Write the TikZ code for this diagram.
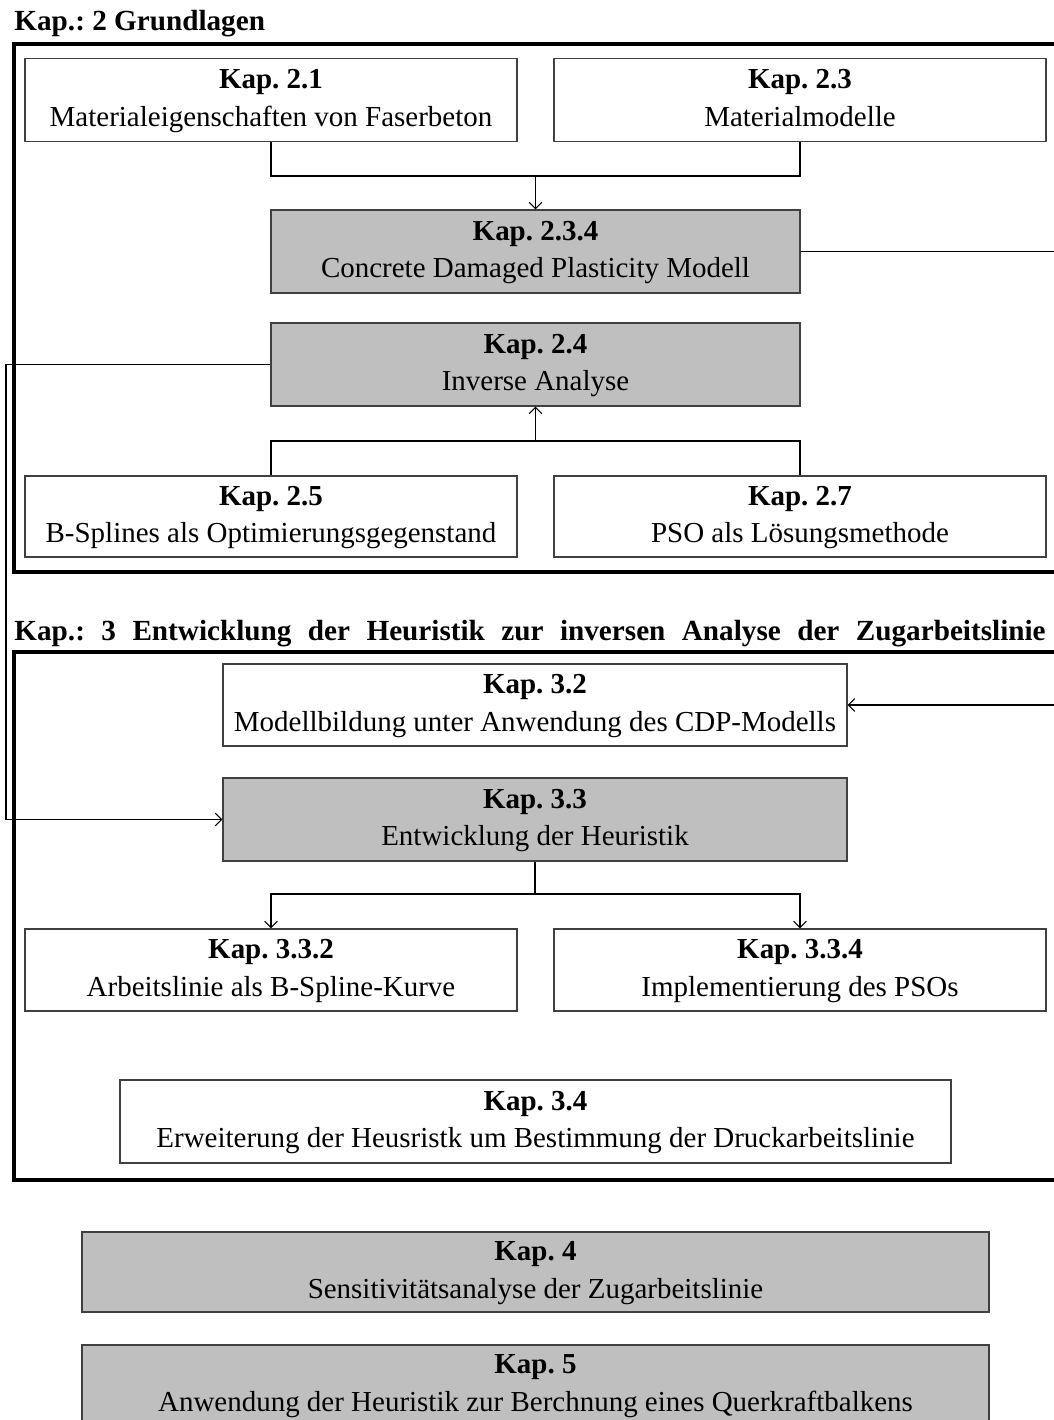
\documentclass[tikz,border=0pt]{standalone}
\usepackage{fontspec}
\setmainfont{Liberation Serif}
\usetikzlibrary{arrows.meta}
\newcommand{\kapitel}[2]{\textbf{Kap. #1}\strut\\#2\strut}
\begin{document}
\frenchspacing
\begin{tikzpicture}[x=0.0165cm,y=-0.0165cm,>={Straight Barb[length=3pt,width=6pt]},
  kap/.style={draw=black!75,line width=0.6pt,align=center,inner sep=0pt,
    font=\fontsize{13.6}{17.5}\selectfont,minimum width=#1*0.0165cm,minimum height=83*0.0165cm},
  kap/.default=492,
  grau/.style={fill=black!25},
  rahmen/.style={line width=1.9pt},
  titel/.style={anchor=base west,inner sep=0pt,font=\fontsize{13.7}{16}\selectfont\bfseries},
  verb/.style={line width=0.5pt}]
  \useasboundingbox (0,0) rectangle (1054,1420);
  \clip (0,0) rectangle (1054,1420);
  \node[titel] (t2) at (14,30) {Kap.: 2 Grundlagen};
  \draw[rahmen] (1070,44) -- (14,44) -- (14,572) -- (1070,572);
  \node[kap] (k21) at (271,100) {\kapitel{2.1}{Materialeigenschaften von Faserbeton}};
  \node[kap] (k23) at (800,100) {\kapitel{2.3}{Materialmodelle}};
  \node[kap=529,grau] (k234) at (535.5,251.5) {\kapitel{2.3.4}{Concrete Damaged Plasticity Modell}};
  \node[kap=529,grau] (k24) at (535.5,364.5) {\kapitel{2.4}{Inverse Analyse}};
  \node[kap,minimum height=81*0.0165cm] (k25) at (271,516.5) {\kapitel{2.5}{B-Splines als Optimierungsgegenstand}};
  \node[kap,minimum height=81*0.0165cm] (k27) at (800,516.5) {\kapitel{2.7}{PSO als Lösungsmethode}};
  \node[titel] (t3) at (14,640) {\makebox[17.01cm][s]{Kap.: 3 Entwicklung der Heuristik zur inversen Analyse der Zugarbeitslinie}};
  \draw[rahmen] (1070,652) -- (14,652) -- (14,1180) -- (1070,1180);
  \node[kap=624,minimum height=82*0.0165cm] (k32) at (535,705) {\kapitel{3.2}{Modellbildung unter Anwendung des CDP-Modells}};
  \node[kap=624,grau] (k33) at (535,819.5) {\kapitel{3.3}{Entwicklung der Heuristik}};
  \node[kap,minimum height=82*0.0165cm] (k332) at (271,970) {\kapitel{3.3.2}{Arbeitslinie als B-Spline-Kurve}};
  \node[kap,minimum height=82*0.0165cm] (k334) at (800,970) {\kapitel{3.3.4}{Implementierung des PSOs}};
  \node[kap=831] (k34) at (535.5,1121.5) {\kapitel{3.4}{Erweiterung der Heusristk um Bestimmung der Druckarbeitslinie}};
  \node[kap=907,grau,minimum height=80*0.0165cm] (k4) at (535.5,1272) {\kapitel{4}{Sensitivitätsanalyse der Zugarbeitslinie}};
  \node[kap=907,grau,minimum height=80*0.0165cm] (k5) at (535.5,1385) {\kapitel{5}{Anwendung der Heuristik zur Berchnung eines Querkraftbalkens}};
  \coordinate (m1) at (535.5,176);
  \coordinate (m2) at (535.5,441);
  \coordinate (m3) at (535,894);
  \coordinate (r1) at (1075,251.5);
  \coordinate (l1) at (6,364.5);
  \draw[verb] (k21.south) |- (m1) -| (k23.south);
  \draw[verb,->] (m1) -- (k234.north);
  \draw[verb] (k25.north) |- (m2) -| (k27.north);
  \draw[verb,->] (m2) -- (k24.south);
  \draw[verb,->] (k234.east) -- (r1) |- (k32.east);
  \draw[verb,->] (k24.west) -- (l1) |- (k33.west);
  \draw[verb] (k33.south) -- (m3);
  \draw[verb,->] (m3) -| (k332.north);
  \draw[verb,->] (m3) -| (k334.north);
\end{tikzpicture}
\end{document}
